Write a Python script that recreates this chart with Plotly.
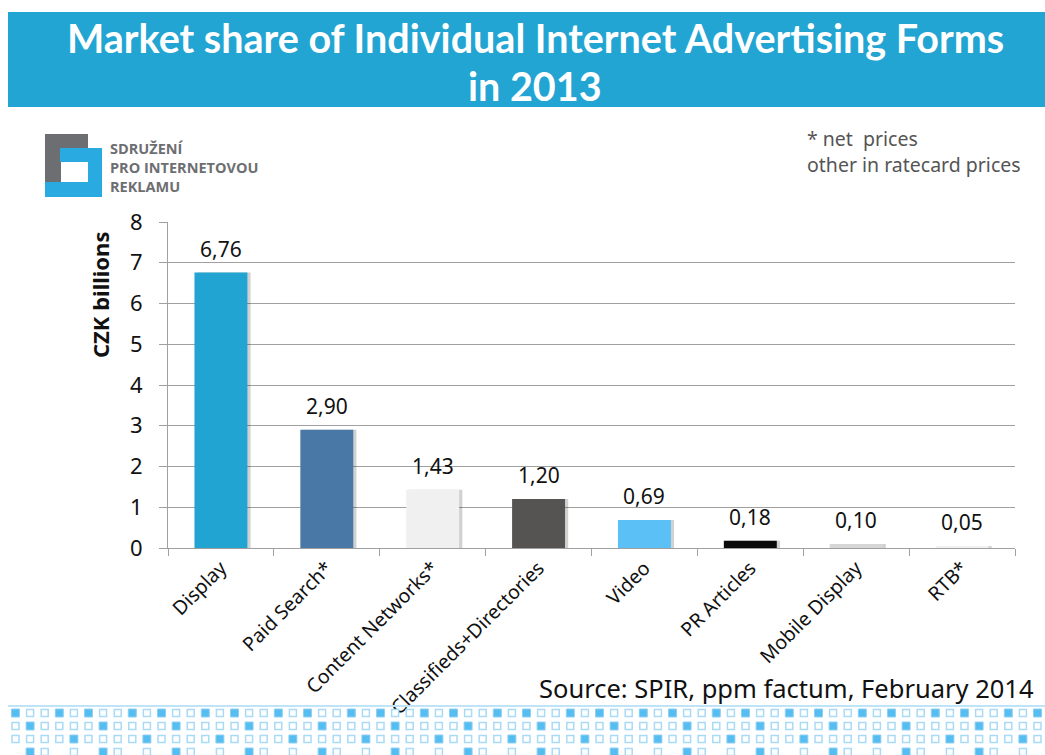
import plotly.graph_objects as go

categories = ["Display", "Paid Search*", "Content Networks*", "Classifieds+Directories",
              "Video", "PR Articles", "Mobile Display", "RTB*"]
values = [6.76, 2.90, 1.43, 1.20, 0.69, 0.18, 0.10, 0.05]
bar_colors = ["#22A4D2", "#4A78A6", "#F0F0F0", "#555452", "#5BC0F5", "#0A0A0A", "#D6D6D6", "#F2F2F2"]
y_ticks = [0, 1, 2, 3, 4, 5, 6, 7, 8]

W, H = 1045, 755
L, R, T, B = 168, 30, 222, 207
PW, PH = W - L - R, H - T - B


def px(x):
    return (x - L) / PW


def py(y):
    return (H - B - y) / PH


fig = go.Figure()

# shadow
fig.add_trace(go.Bar(
    x=categories, y=values, width=0.5, offset=-0.22,
    marker=dict(color="rgba(0,0,0,0.18)", line=dict(width=0)),
    hoverinfo="skip", showlegend=False,
))
fig.add_trace(go.Bar(
    x=categories, y=values, width=0.5, offset=-0.25,
    marker=dict(color=bar_colors, line=dict(width=0)),
    showlegend=False,
))

shapes = []
# banner
shapes.append(dict(type="rect", xref="paper", yref="paper",
                   x0=px(8), x1=px(1045), y0=py(107), y1=py(12),
                   fillcolor="#22A5D3", line=dict(width=0), layer="below"))
# logo
gray, blue = "#6D6E71", "#29ABE2"
for (x0, y0, x1, y1, c) in [
    (45, 134, 88, 148, gray), (45, 134, 61, 182, gray),
    (60, 148, 102, 162, blue), (88, 148, 102, 197, blue), (45, 182, 102, 197, blue),
]:
    shapes.append(dict(type="rect", xref="paper", yref="paper",
                       x0=px(x0), x1=px(x1), y0=py(y1), y1=py(y0),
                       fillcolor=c, line=dict(width=0)))
# bottom line
shapes.append(dict(type="line", xref="paper", yref="paper",
                   x0=px(8), x1=px(1045), y0=py(706), y1=py(706),
                   line=dict(color="#BFE3F7", width=2)))
# bottom square pattern
rows = [(713, {0: "f", 3: "f"}, "all"), (726, {1: "f"}, "all"), (739, {4: "f"}, "all"),
        (752, {1: "f", 2: "o", 4: "o"}, "some")]
for (cy, pat, mode) in rows:
    i = 0
    while True:
        cx = 15.5 + 14.6 * i
        if cx > 1045:
            break
        kind = pat.get(i % 5, "o" if mode == "all" else None)
        if kind is not None:
            if kind == "f":
                shapes.append(dict(type="rect", xref="paper", yref="paper",
                                   x0=px(cx - 4), x1=px(cx + 4), y0=py(cy + 4), y1=py(cy - 4),
                                   fillcolor="#55BDF0", line=dict(color="#8FD0F5", width=1)))
            else:
                shapes.append(dict(type="rect", xref="paper", yref="paper",
                                   x0=px(cx - 3.5), x1=px(cx + 3.5), y0=py(cy + 3.5), y1=py(cy - 3.5),
                                   fillcolor="white", line=dict(color="#A9DAF6", width=1.5)))
        i += 1

annotations = [
    dict(text="<b>Market share of Individual Internet Advertising Forms</b>",
         xref="paper", yref="paper", x=px(535), y=py(38), xanchor="center", yanchor="middle",
         showarrow=False, font=dict(family="Lato", size=39.5, color="white")),
    dict(text="<b>in 2013</b>",
         xref="paper", yref="paper", x=px(535), y=py(85), xanchor="center", yanchor="middle",
         showarrow=False, font=dict(family="Lato", size=39.5, color="white")),
    dict(text="* net  prices",
         xref="paper", yref="paper", x=px(805), y=py(139), xanchor="left", yanchor="middle",
         showarrow=False, font=dict(family="Noto Sans", size=19.5, color="#555555")),
    dict(text="other in ratecard prices",
         xref="paper", yref="paper", x=px(805), y=py(165), xanchor="left", yanchor="middle",
         showarrow=False, font=dict(family="Noto Sans", size=19.5, color="#555555")),
    dict(text="<b>CZK billions</b>", textangle=-90,
         xref="paper", yref="paper", x=px(100), y=py(295), xanchor="center", yanchor="middle",
         showarrow=False, font=dict(family="Noto Sans", size=22, color="#111111")),
    dict(text="Source: SPIR, ppm factum, February 2014",
         xref="paper", yref="paper", x=px(1036), y=py(688), xanchor="right", yanchor="middle",
         showarrow=False, font=dict(family="Noto Sans", size=25.5, color="#111111")),
    dict(text="<b>SDRUŽENÍ<br>PRO INTERNETOVOU<br>REKLAMU</b>", xref="paper", yref="paper",
         x=px(108), y=py(167), xanchor="left", yanchor="middle", align="left",
         showarrow=False, font=dict(family="Open Sans", size=14.5, color="#6D6E71")),
]
# data labels
for c, v in zip(categories, values):
    annotations.append(dict(text=f"{v:.2f}".replace(".", ","), x=c, y=v, xref="x", yref="y",
                            xanchor="center", yanchor="bottom", yshift=8, showarrow=False,
                            font=dict(family="Noto Sans", size=21, color="#111111")))

fig.update_layout(
    width=W, height=H,
    margin=dict(l=L, r=R, t=T, b=B, autoexpand=False),
    paper_bgcolor="white", plot_bgcolor="white",
    barmode="overlay", bargap=0.5,
    separators=", ",
    shapes=shapes, annotations=annotations,
    xaxis=dict(
        type="category", tickangle=-45, tickson="boundaries", ticks="outside",
        ticklen=7, tickcolor="#A0A0A0", showline=True, linecolor="#A0A0A0", linewidth=1,
        showgrid=False, tickfont=dict(family="Noto Sans", size=19.5, color="#111111"),
        range=[-0.5, 7.5],
    ),
    yaxis=dict(
        range=[0, 8], tickvals=y_ticks, ticks="outside", ticklen=8, tickcolor="#A0A0A0",
        showgrid=True, gridcolor="#A0A0A0", gridwidth=1, showline=True, linecolor="#A0A0A0",
        zeroline=False, tickfont=dict(family="Noto Sans", size=22, color="#111111"),
        ticklabelstandoff=12,
    ),
)

fig.write_html("out.html")
